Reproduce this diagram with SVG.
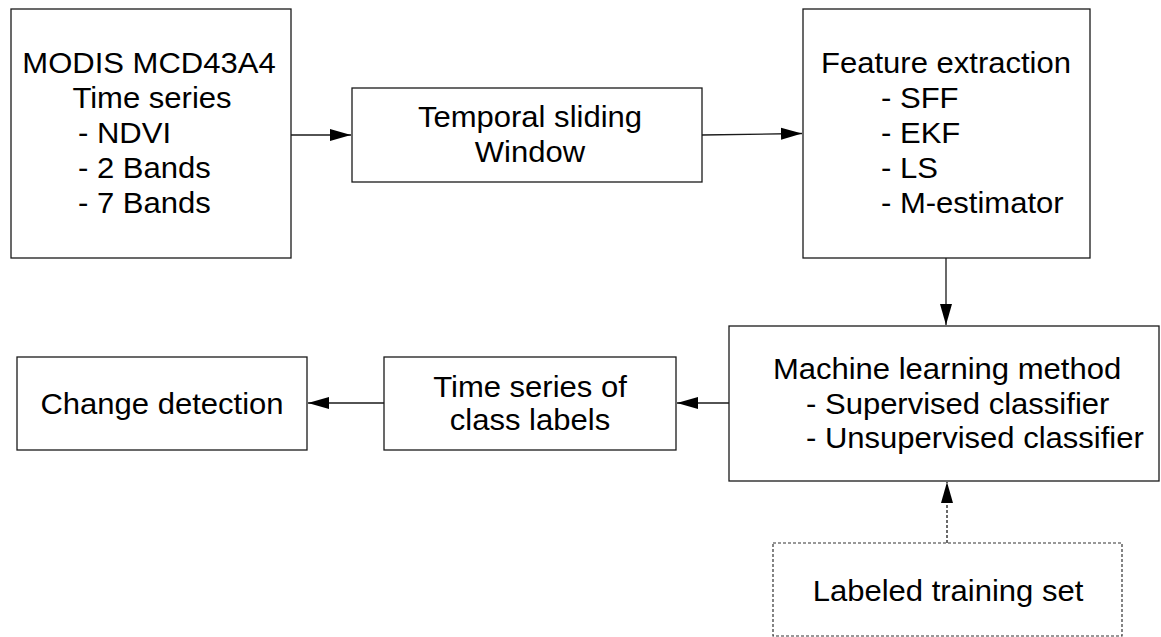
<svg xmlns="http://www.w3.org/2000/svg" width="1161" height="637" viewBox="0 0 1161 637">
<style>
.box{fill:#fff;stroke:#1a1a1a;stroke-width:1.3}
.dbox{fill:#fff;stroke:#333;stroke-width:1.2;stroke-dasharray:3 2}
.t{font-family:"Liberation Sans",Arial,sans-serif;font-size:29px;fill:#000}
.m{text-anchor:middle}
.c{fill:none;stroke:#1a1a1a;stroke-width:1.3}
.d{stroke-dasharray:3 2}
</style>
<defs>
<marker id="ah" markerUnits="userSpaceOnUse" markerWidth="22" markerHeight="14" viewBox="0 0 22 14" refX="21" refY="7" orient="auto">
<path d="M0,1 L21,7 L0,13 Z" fill="#000"/>
</marker>
</defs>
<rect width="1161" height="637" fill="#fff"/>
<g id="connectors">
<line class="c" x1="291" y1="135" x2="351" y2="135" marker-end="url(#ah)"/>
<line class="c" x1="702" y1="135" x2="802" y2="133.5" marker-end="url(#ah)"/>
<line class="c" x1="946" y1="258" x2="946" y2="325" marker-end="url(#ah)"/>
<line class="c" x1="729" y1="403" x2="677" y2="403" marker-end="url(#ah)"/>
<line class="c" x1="384" y1="403" x2="308" y2="403" marker-end="url(#ah)"/>
<line class="c d" x1="947" y1="543" x2="947" y2="482" marker-end="url(#ah)"/>
</g>
<g id="modis">
<rect class="box" x="11" y="9" width="280" height="249"/>
<text class="t m" transform="matrix(1.07 0 0 1 149 0)" x="0" y="73">MODIS MCD43A4</text>
<text class="t m" transform="matrix(1.07 0 0 1 152 0)" x="0" y="108">Time series</text>
<text class="t" transform="matrix(1.07 0 0 1 78 0)" x="0" y="143">- NDVI</text>
<text class="t" transform="matrix(1.07 0 0 1 78 0)" x="0" y="178">- 2 Bands</text>
<text class="t" transform="matrix(1.07 0 0 1 78 0)" x="0" y="213">- 7 Bands</text>
</g>
<g id="window">
<rect class="box" x="352" y="88" width="350" height="94"/>
<text class="t m" transform="matrix(1.07 0 0 1 530 0)" x="0" y="127">Temporal sliding</text>
<text class="t m" transform="matrix(1.07 0 0 1 530 0)" x="0" y="162">Window</text>
</g>
<g id="features">
<rect class="box" x="803" y="9" width="287" height="249"/>
<text class="t m" transform="matrix(1.07 0 0 1 946 0)" x="0" y="73">Feature extraction</text>
<text class="t" transform="matrix(1.07 0 0 1 881 0)" x="0" y="108">- SFF</text>
<text class="t" transform="matrix(1.07 0 0 1 881 0)" x="0" y="143">- EKF</text>
<text class="t" transform="matrix(1.07 0 0 1 881 0)" x="0" y="178">- LS</text>
<text class="t" transform="matrix(1.07 0 0 1 881 0)" x="0" y="213">- M-estimator</text>
</g>
<g id="ml">
<rect class="box" x="729" y="326" width="430" height="155"/>
<text class="t m" transform="matrix(1.07 0 0 1 947 0)" x="0" y="379">Machine learning method</text>
<text class="t" transform="matrix(1.07 0 0 1 806 0)" x="0" y="414">- Supervised classifier</text>
<text class="t" transform="matrix(1.07 0 0 1 806 0)" x="0" y="448">- Unsupervised classifier</text>
</g>
<g id="labels">
<rect class="box" x="384" y="357" width="292" height="93"/>
<text class="t m" transform="matrix(1.07 0 0 1 530 0)" x="0" y="397">Time series of</text>
<text class="t m" transform="matrix(1.07 0 0 1 530 0)" x="0" y="430">class labels</text>
</g>
<g id="change">
<rect class="box" x="17" y="357" width="290" height="93"/>
<text class="t m" transform="matrix(1.07 0 0 1 162 0)" x="0" y="414">Change detection</text>
</g>
<g id="training">
<rect class="dbox" x="773" y="543" width="349" height="93"/>
<text class="t m" transform="matrix(1.07 0 0 1 948 0)" x="0" y="601">Labeled training set</text>
</g>
</svg>
